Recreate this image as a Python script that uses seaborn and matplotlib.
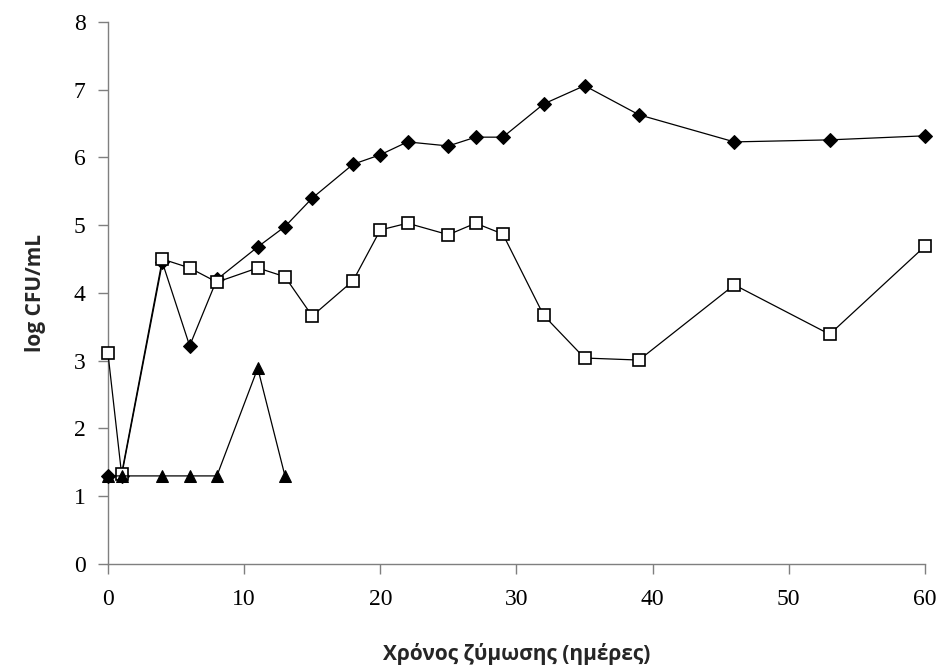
import matplotlib
matplotlib.use("Agg")
import matplotlib.pyplot as plt
import seaborn as sns
import pandas as pd

# Fermentation days and log counts for each microbial group
days_a = [0, 1, 4, 6, 8, 11, 13, 15, 18, 20, 22, 25, 27, 29, 32, 35, 39, 46, 53, 60]
count_a = [1.3, 1.3, 4.45, 3.22, 4.2, 4.68, 4.98, 5.4, 5.9, 6.04, 6.23, 6.17, 6.3, 6.3,
           6.79, 7.06, 6.63, 6.23, 6.26, 6.32]

days_b = [0, 1, 4, 6, 8, 11, 13, 15, 18, 20, 22, 25, 27, 29, 32, 35, 39, 46, 53, 60]
count_b = [3.11, 1.33, 4.5, 4.37, 4.16, 4.37, 4.24, 3.66, 4.18, 4.93, 5.03, 4.86, 5.03, 4.87,
           3.67, 3.04, 3.01, 4.12, 3.39, 4.69]

days_c = [0, 1, 4, 6, 8, 11, 13]
count_c = [1.3, 1.3, 1.3, 1.3, 1.3, 2.89, 1.3]

x_ticks = [0, 10, 20, 30, 40, 50, 60]
y_ticks = [0, 1, 2, 3, 4, 5, 6, 7, 8]

sns.set_theme(style="white")
plt.rcParams["font.family"] = ["DejaVu Sans"]

fig = plt.figure(figsize=(9.42, 6.68), dpi=100)
ax = fig.add_axes([0.1146, 0.1557, 0.8673, 0.8114])

df_a = pd.DataFrame({"day": days_a, "log": count_a})
df_b = pd.DataFrame({"day": days_b, "log": count_b})
df_c = pd.DataFrame({"day": days_c, "log": count_c})

sns.lineplot(data=df_a, x="day", y="log", ax=ax, color="black", linewidth=0.9,
             marker="D", markersize=7, markerfacecolor="black", markeredgecolor="black",
             zorder=3)
sns.lineplot(data=df_b, x="day", y="log", ax=ax, color="black", linewidth=0.9,
             marker="s", markersize=8.5, markerfacecolor="white", markeredgecolor="black",
             markeredgewidth=1.2, zorder=4)
sns.lineplot(data=df_c, x="day", y="log", ax=ax, color="black", linewidth=0.9,
             marker="^", markersize=9, markerfacecolor="black", markeredgecolor="black",
             zorder=5)

ax.set_xlim(0, 60)
ax.set_ylim(0, 8)
ax.set_xticks(x_ticks)
ax.set_yticks(y_ticks)
ax.set_xticklabels([str(t) for t in x_ticks], fontfamily="Liberation Serif", fontsize=17)
ax.set_yticklabels([str(t) for t in y_ticks], fontfamily="Liberation Serif", fontsize=17)

for side in ("top", "right"):
    ax.spines[side].set_visible(False)
for side in ("left", "bottom"):
    ax.spines[side].set_color("#7f7f7f")
    ax.spines[side].set_linewidth(1.0)

ax.tick_params(axis="both", which="major", direction="out", length=7, width=1.0,
               color="#7f7f7f", labelcolor="black", bottom=True, left=True)
ax.tick_params(axis="x", pad=11)
ax.tick_params(axis="y", pad=9)

ax.set_xlabel("Χρόνος ζύμωσης (ημέρες)", fontfamily="Open Sans", fontweight="bold",
              fontsize=15, labelpad=24)
ax.set_ylabel("log CFU/mL", fontfamily="Open Sans", fontweight="bold",
              fontsize=15, labelpad=20)
ax.set_facecolor("white")
for line in ax.lines:
    line.set_clip_on(False)

fig.savefig("out.png", dpi=100, facecolor="white")
